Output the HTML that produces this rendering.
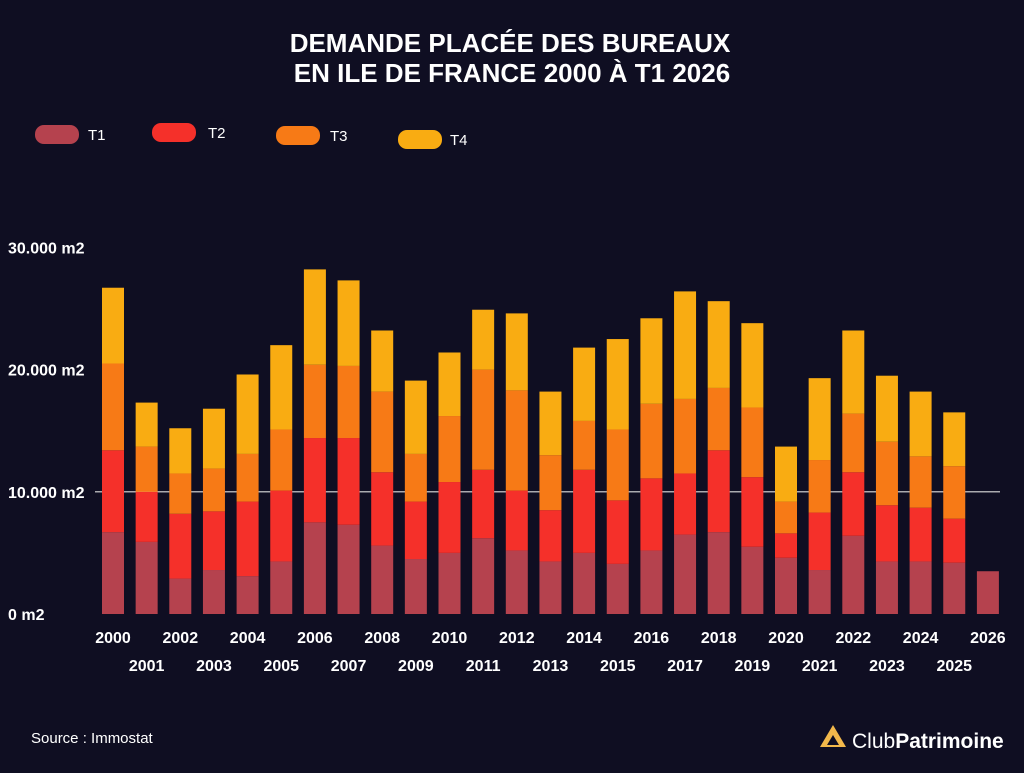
<!DOCTYPE html>
<html><head><meta charset="utf-8">
<style>
body{margin:0;background:#0f0e22;width:1024px;height:768px;overflow:hidden;font-family:"Liberation Sans",sans-serif;}
svg text{font-family:"Liberation Sans",sans-serif;}
</style></head>
<body>
<svg id="chart" width="1024" height="768" xmlns="http://www.w3.org/2000/svg">
<rect width="1024" height="768" fill="#0f0e22"/>
<text x="510" y="52" fill="#fff" font-size="26" font-weight="bold" text-anchor="middle">DEMANDE PLACÉE DES BUREAUX</text>
<text x="512" y="82" fill="#fff" font-size="26" font-weight="bold" text-anchor="middle">EN ILE DE FRANCE 2000 À T1 2026</text>
<g id="legend"></g>
<g id="grid"></g>
<g id="bars"></g>
<g id="xlabels"></g>
<text x="31" y="743" fill="#fff" font-size="15">Source : Immostat</text>
<g>
<polygon points="833,725 846,747 820,747" fill="#f2b84b"/>
<polygon points="833,735 839,745 827,745" fill="#0f0e22"/>
<text x="852" y="748" fill="#fff" font-size="21">Club<tspan font-weight="bold">Patrimoine</tspan></text>
</g>
</svg>
<script>
const years=[2000,2001,2002,2003,2004,2005,2006,2007,2008,2009,2010,2011,2012,2013,2014,2015,2016,2017,2018,2019,2020,2021,2022,2023,2024,2025,2026];
const t1=[6.7,5.9,2.9,3.6,3.1,4.3,7.5,7.3,5.6,4.5,5.0,6.2,5.2,4.3,5.0,4.1,5.2,6.5,6.7,5.5,4.6,3.6,6.4,4.3,4.3,4.2,3.5];
const t2=[6.7,4.1,5.3,4.8,6.1,5.8,6.9,7.1,6.0,4.7,5.8,5.6,4.9,4.2,6.8,5.2,5.9,5.0,6.7,5.7,2.0,4.7,5.2,4.6,4.4,3.6,0];
const t3=[7.1,3.7,3.3,3.5,3.9,5.0,6.0,5.9,6.6,3.9,5.4,8.2,8.2,4.5,4.0,5.8,6.1,6.1,5.1,5.7,2.6,4.3,4.8,5.2,4.2,4.3,0];
const t4=[6.2,3.6,3.7,4.9,6.5,6.9,7.8,7.0,5.0,6.0,5.2,4.9,6.3,5.2,6.0,7.4,7.0,8.8,7.1,6.9,4.5,6.7,6.8,5.4,5.3,4.4,0];
const seriesNames=["T1","T2","T3","T4"];
const yTicks=[0,10,20,30];
const yTickLabels=["0 m2","10.000 m2","20.000 m2","30.000 m2"];
const colors=["#b5424e","#f5302a","#f77a16","#f9ac12"];
const NS="http://www.w3.org/2000/svg";
const y0=614,pxPer=12.22;
const yS=v=>y0-v*pxPer;
const xS=i=>113+i*33.65;
function mk(tag,attrs,parent){const e=document.createElementNS(NS,tag);for(const k in attrs)e.setAttribute(k,attrs[k]);parent.appendChild(e);return e;}
const grid=document.getElementById('grid');
yTicks.forEach((t,i)=>{
 if(t===10){const l=mk('line',{x1:95,x2:1000,y1:yS(t),y2:yS(t),stroke:'#ddd','stroke-width':1.2},grid);
 
 }
 const tx=mk('text',{x:8,y:yS(t)+6,fill:'#fff','font-size':16,'font-weight':'bold'},grid);tx.textContent=yTickLabels[i];
 
 
});
const bars=document.getElementById('bars');
const data=[t1,t2,t3,t4];
years.forEach((yr,i)=>{
 let base=0;
 data.forEach((s,k)=>{
  const v=s[i]; if(!v)return;
  const r=mk('rect',{x:xS(i)-11,width:22,y:yS(base+v),height:v*pxPer,fill:colors[k]},bars);
  
  
  base+=v;
 });
 const tx=mk('text',{x:xS(i),y:i%2===0?643:671,fill:'#fff','font-size':16,'font-weight':'bold','text-anchor':'middle'},document.getElementById('xlabels'));
 tx.textContent=yr;
 
 
});
const legend=document.getElementById('legend');
const lx=[35,152,276,398],ly=[125,123,126,130],tx=[88,208,330,450];
seriesNames.forEach((n,k)=>{
 const r=mk('rect',{x:lx[k],y:ly[k],width:44,height:19,rx:9,fill:colors[k]},legend);
 
 
 const t=mk('text',{x:tx[k],y:ly[k]+15,fill:'#fff','font-size':15},legend);t.textContent=n;
 
 
});
</script>
</body></html>
